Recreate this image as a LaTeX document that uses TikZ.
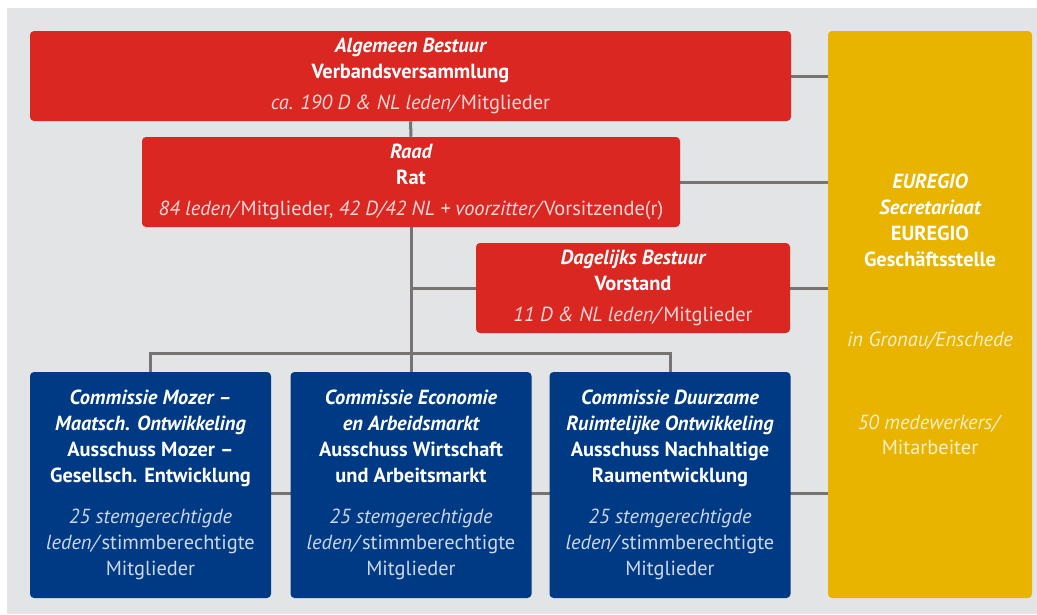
\documentclass[tikz,border=0pt]{standalone}
\usepackage{fontspec}
\setmainfont{PT Sans}
\usetikzlibrary{positioning,backgrounds,calc}

\definecolor{euRed}{HTML}{DA2722}
\definecolor{euBlue}{HTML}{003A84}
\definecolor{euYellow}{HTML}{E8B400}
\definecolor{euGrey}{HTML}{E3E4E6}
\definecolor{euLine}{HTML}{777372}
\colorlet{redTint}{white!82!euRed}
\colorlet{blueTint}{white!80!euBlue}
\colorlet{yellowTint}{white!78!euYellow}

\newcommand{\bi}[1]{{\bfseries\itshape #1}}

\tikzset{
  orgbox/.style={rounded corners=3pt, inner sep=0pt, align=center, text=white,
    font=\fontsize{15.3}{19.4}\selectfont},
  redbox/.style={orgbox, fill=euRed, minimum height=90*0.75pt},
  bluebox/.style={orgbox, fill=euBlue, minimum width=241*0.75pt, minimum height=226*0.75pt},
  yellowbox/.style={orgbox, fill=euYellow},
  conn/.style={draw=euLine, line width=2.25pt},
}

\begin{document}
\begin{tikzpicture}[x=0.75pt, y=-0.75pt]

    % Size of the picture (pixel units)
    \useasboundingbox (0,0) rectangle (1037,614);

    % Boards
    \node[redbox, minimum width=761*0.75pt] (algBestuur) at (410.5,76)
        {\bi{Algemeen Bestuur}\\ \textbf{Verbandsversammlung}\\[4.5pt]
         \color{redTint}\textit{ca. 190 D \& NL leden/}Mitglieder};
    \node[redbox, minimum width=538*0.75pt] (raad) at (411,182)
        {\bi{Raad}\\ \textbf{Rat}\\[4.5pt]
         \color{redTint}\textit{84 leden/}Mitglieder, \textit{42 D/42 NL + voorzitter/}Vorsitzende(r)};
    \node[redbox, minimum width=314*0.75pt] (dagBestuur) at (633,288)
        {\bi{Dagelijks Bestuur}\\ \textbf{Vorstand}\\[4.5pt]
         \color{redTint}\textit{11 D \& NL leden/}Mitglieder};

    % Secretariat
    \node[yellowbox, minimum width=204*0.75pt, minimum height=567*0.75pt] (secretariaat) at (930,314.5)
        {\bi{EUREGIO}\\ \bi{Secretariaat}\\ \textbf{EUREGIO}\\ \textbf{Geschäftsstelle}\\[41pt]
         \color{yellowTint}\textit{in Gronau/Enschede}\\[42.5pt]
         \color{yellowTint}\textit{50 medewerkers/}\\ \color{yellowTint}Mitarbeiter};

    % Committees
    \node[bluebox] (comMozer) at (150.5,485)
        {\bi{Commissie Mozer --}\\ \bi{Maatsch. Ontwikkeling}\\ \textbf{Ausschuss Mozer --}\\ \textbf{Gesellsch. Entwicklung}\\[12pt]
         \color{blueTint}\textit{25 stemgerechtigde}\\ \color{blueTint}\textit{leden/}stimmberechtigte\\ \color{blueTint}Mitglieder};
    \node[bluebox] (comEconomie) at (411,485)
        {\bi{Commissie Economie}\\ \bi{en Arbeidsmarkt}\\ \textbf{Ausschuss Wirtschaft}\\ \textbf{und Arbeitsmarkt}\\[12pt]
         \color{blueTint}\textit{25 stemgerechtigde}\\ \color{blueTint}\textit{leden/}stimmberechtigte\\ \color{blueTint}Mitglieder};
    \node[bluebox] (comDuurzaam) at (670,485)
        {\bi{Commissie Duurzame}\\ \bi{Ruimtelijke Ontwikkeling}\\ \textbf{Ausschuss Nachhaltige}\\ \textbf{Raumentwicklung}\\[12pt]
         \color{blueTint}\textit{25 stemgerechtigde}\\ \color{blueTint}\textit{leden/}stimmberechtigte\\ \color{blueTint}Mitglieder};

    % Background and connectors
    \begin{scope}[on background layer]
        \fill[euGrey] (7,8) rectangle (1037,614);
        \coordinate (bus) at (411,353);
        \coordinate (comLine) at (271,493);

        \draw[conn] (algBestuur.south) -- (raad.north);
        \draw[conn] (raad.south) -- (comEconomie.north);
        \draw[conn] (raad.south |- dagBestuur.west) -- (dagBestuur.west);
        \draw[conn] (comMozer.north) |- (bus) -| (comDuurzaam.north);

        \draw[conn] (algBestuur.east) -- (algBestuur.east -| secretariaat.west);
        \draw[conn] (raad.east) -- (raad.east -| secretariaat.west);
        \draw[conn] (dagBestuur.east) -- (dagBestuur.east -| secretariaat.west);
        \draw[conn] (comMozer.east |- comLine) -- (comLine -| secretariaat.west);
    \end{scope}

\end{tikzpicture}
\end{document}
